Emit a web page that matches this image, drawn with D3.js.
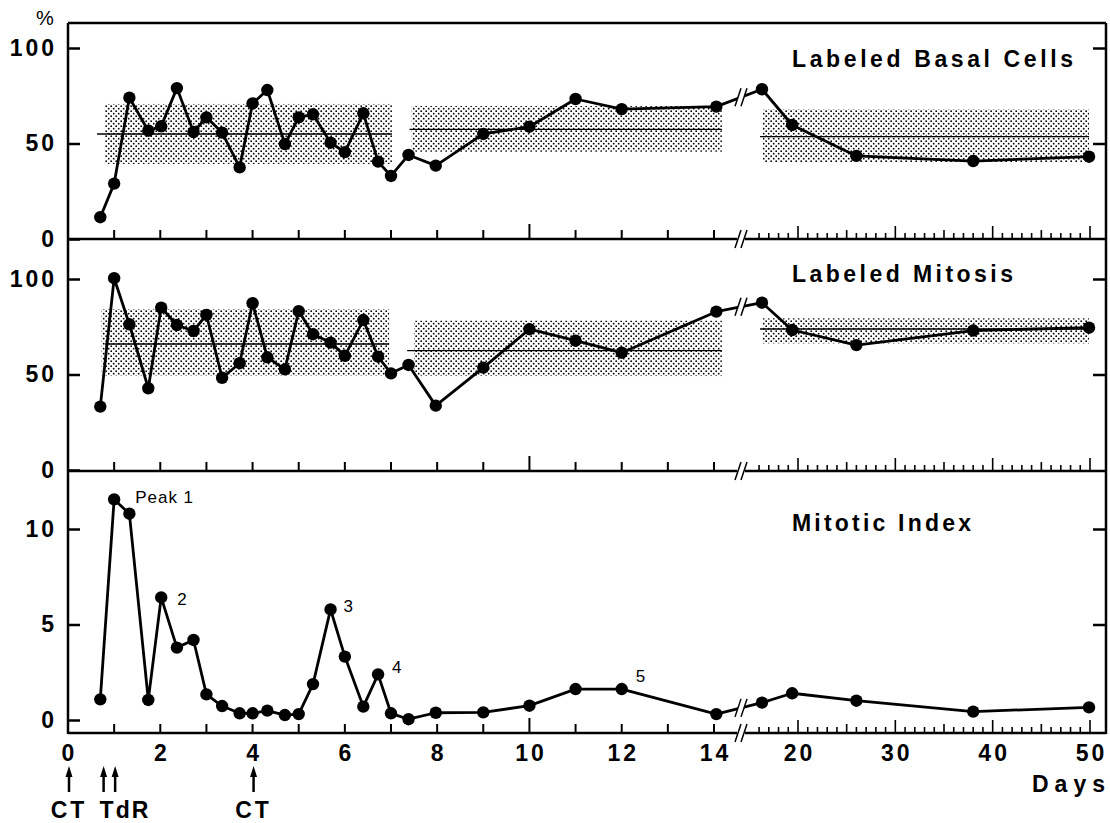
<!DOCTYPE html>
<html>
<head>
<meta charset="utf-8">
<script src="https://cdn.jsdelivr.net/npm/d3@7/dist/d3.min.js"></script>
<style>
  body { margin: 0; background: #fff; }
  text { font-family: "Liberation Sans", Arial, sans-serif; fill: #000; }
</style>
</head>
<body>
<div id="chart"></div>
<script>
// sampling days (shared by the three panels)
var days = [0.7, 1.0, 1.33, 1.74, 2.02, 2.36, 2.72, 3.0, 3.34, 3.72, 4.0, 4.32, 4.7, 5.0, 5.31, 5.69,
  6.0, 6.4, 6.72, 7.0, 7.38, 7.97, 9.0, 10.0, 11.0, 12.0, 14.05, 16.3, 19.4, 26.0, 38.0, 49.9];

var basalCells = [11.4, 29, 74, 56.7, 59, 79, 56, 63.7, 55.7, 37.5, 71, 78, 49.7, 63.7, 65.3, 50.4,
  45.5, 65.8, 40.5, 33, 44, 38.4, 55, 58.8, 73.3, 68, 69.3, 78.4, 59.7, 43.5, 40.8, 43.1];

var labeledMitosis = [33.2, 100.4, 76.3, 42.8, 85, 75.9, 72.8, 81.2, 48.3, 55.9, 87.3, 59, 52.7, 83.2, 71.1, 66.7,
  59.8, 78.5, 59.3, 50.6, 55, 33.7, 53.6, 73.7, 67.7, 61.4, 82.9, 87.6, 73.3, 65.4, 73.0, 74.5];

var mitoticIndex = [1.08, 11.55, 10.8, 1.05, 6.42, 3.79, 4.19, 1.34, 0.73, 0.35, 0.35, 0.49, 0.26, 0.31, 1.88, 5.79,
  3.32, 0.70, 2.39, 0.35, 0.04, 0.38, 0.40, 0.75, 1.62, 1.62, 0.31, 0.91, 1.40, 1.01, 0.44, 0.66];

// shaded ranges: [fromDay, toDay, low, high, mean, meanLineFrom]
var basalBands = [[0.8, 7.02, 39.3, 70.7, 55, 0.63], [7.45, 14.17, 45.7, 69.6, 57.4, 7.4], [16.4, 49.9, 40.2, 67.9, 53.6, 16.1]];
var mitosisBands = [[0.73, 6.96, 49.4, 84.3, 66, 0.8], [7.5, 14.17, 49.2, 78.2, 62.5, 7.35], [16.4, 49.9, 66.3, 79.4, 73.8, 16.1]];

// peak labels on the mitotic index: [index into days, label]
var peakLabels = [[1, "Peak 1"], [4, "2"], [15, "3"], [18, "4"], [25, "5"]];

var ctDays = [0, 4];
var tdrDays = [0.75, 1.0];

var leftTicks = d3.range(0, 15);
var leftLabels = [0, 2, 4, 6, 8, 10, 12, 14];
var rightTicks = d3.range(16, 51);
var rightLabels = [20, 30, 40, 50];

var svgWidth = 1110, svgHeight = 823;
var axisX = 68, rightX = 1106, topY = 23;
var breakX = 741;

var svg = d3.select("#chart").append("svg")
  .attr("width", svgWidth)
  .attr("height", svgHeight);

var defs = svg.append("defs");
var pat = defs.append("pattern")
  .attr("id", "stipple")
  .attr("width", 5).attr("height", 5)
  .attr("patternUnits", "userSpaceOnUse");
pat.append("circle").attr("cx", 1.2).attr("cy", 1.2).attr("r", 0.9).attr("fill", "#000");
pat.append("circle").attr("cx", 3.7).attr("cy", 3.7).attr("r", 0.9).attr("fill", "#000");

// broken x scale: 0-14 days, then 15-50 days
var xLeft = d3.scaleLinear().domain([0, 14]).range([68, 714]);
var xRight = d3.scaleLinear().domain([20, 50]).range([798, 1090]);
function x(d) { return d <= 14.5 ? xLeft(d) : xRight(d); }

var panels = [
  { name: "Labeled Basal Cells", values: basalCells, bands: basalBands,
    y: d3.scaleLinear().domain([0, 100]).range([239, 48]), ticks: [0, 50, 100], bottom: 239, titleW: 281, titleY: 67 },
  { name: "Labeled Mitosis", values: labeledMitosis, bands: mitosisBands,
    y: d3.scaleLinear().domain([0, 100]).range([470, 279]), ticks: [0, 50, 100], bottom: 471, titleW: 221, titleY: 282 },
  { name: "Mitotic Index", values: mitoticIndex, bands: [],
    y: d3.scaleLinear().domain([0, 10]).range([720, 529]), ticks: [0, 5, 10], bottom: 733, titleW: 179, titleY: 531 }
];

// outer frame
svg.append("line").attr("x1", axisX).attr("x2", rightX).attr("y1", topY).attr("y2", topY)
  .attr("stroke", "#000").attr("stroke-width", 2.5);
svg.append("line").attr("x1", axisX).attr("x2", axisX).attr("y1", topY).attr("y2", 734)
  .attr("stroke", "#000").attr("stroke-width", 2.5);
svg.append("line").attr("x1", rightX).attr("x2", rightX).attr("y1", topY).attr("y2", 734)
  .attr("stroke", "#000").attr("stroke-width", 2.5);

svg.append("text").attr("x", 45).attr("y", 25).attr("text-anchor", "middle")
  .attr("font-size", "20px").text("%");

var line = d3.line().x(function (d, i) { return x(days[i]); }).y(function (d) { return d; });

panels.forEach(function (p, pi) {
  var g = svg.append("g");
  var y = p.y;

  // shaded ranges and mean lines
  g.selectAll("rect.band").data(p.bands).enter().append("rect")
    .attr("x", function (b) { return x(b[0]); })
    .attr("width", function (b) { return x(b[1]) - x(b[0]); })
    .attr("y", function (b) { return y(b[3]); })
    .attr("height", function (b) { return y(b[2]) - y(b[3]); })
    .attr("fill", "url(#stipple)");
  g.selectAll("line.mean").data(p.bands).enter().append("line")
    .attr("x1", function (b) { return x(b[5]); })
    .attr("x2", function (b) { return x(b[1]); })
    .attr("y1", function (b) { return y(b[4]); })
    .attr("y2", function (b) { return y(b[4]); })
    .attr("stroke", "#000").attr("stroke-width", 1.4);

  // bottom axis line with break gap
  g.append("line").attr("x1", axisX).attr("x2", breakX - 4).attr("y1", p.bottom).attr("y2", p.bottom)
    .attr("stroke", "#000").attr("stroke-width", 2.5);
  g.append("line").attr("x1", breakX + 4).attr("x2", rightX).attr("y1", p.bottom).attr("y2", p.bottom)
    .attr("stroke", "#000").attr("stroke-width", 2.5);
  [-3, 3].forEach(function (o) {
    g.append("line")
      .attr("x1", breakX + o - 3).attr("y1", p.bottom + 9)
      .attr("x2", breakX + o + 3).attr("y2", p.bottom - 9)
      .attr("stroke", "#000").attr("stroke-width", 1.5);
  });

  // inward x ticks
  g.selectAll("line.lt").data(leftTicks).enter().append("line")
    .attr("x1", function (d) { return xLeft(d); }).attr("x2", function (d) { return xLeft(d); })
    .attr("y1", p.bottom).attr("y2", function (d) { return p.bottom - (d === 10 ? 15 : 9); })
    .attr("stroke", "#000").attr("stroke-width", 2);
  g.selectAll("line.rt").data(rightTicks).enter().append("line")
    .attr("x1", function (d) { return xRight(d); }).attr("x2", function (d) { return xRight(d); })
    .attr("y1", p.bottom).attr("y2", function (d) { return p.bottom - (d % 10 === 0 ? 13 : (d % 5 === 0 ? 9 : 6)); })
    .attr("stroke", "#000").attr("stroke-width", 1.6);

  // y axes, ticks pointing inward
  var yl = g.append("g").attr("transform", "translate(" + axisX + ",0)")
    .call(d3.axisLeft(y).tickValues(p.ticks).tickSize(-12).tickPadding(11).tickFormat(d3.format("d")));
  yl.select(".domain").remove();
  yl.selectAll("line").attr("stroke-width", 2.5);
  yl.selectAll("text").attr("font-size", "23px").attr("font-weight", "bold")
    .attr("letter-spacing", "3px").attr("font-family", "Liberation Sans, Arial, sans-serif");

  var yr = g.append("g").attr("transform", "translate(" + rightX + ",0)")
    .call(d3.axisRight(y).tickValues(p.ticks.filter(function (t) { return t > 0; })).tickSize(-13).tickFormat(""));
  yr.select(".domain").remove();
  yr.selectAll("line").attr("stroke-width", 2.5);

  // title
  g.append("text").attr("x", 792).attr("y", p.titleY)
    .attr("font-size", "23px").attr("font-weight", "bold")
    .attr("textLength", p.titleW).attr("lengthAdjust", "spacing")
    .text(p.name);

  // data line and points
  var pts = p.values.map(function (v) { return y(v); });
  g.append("path").datum(pts).attr("d", line)
    .attr("fill", "none").attr("stroke", "#000").attr("stroke-width", 2.8).attr("stroke-linejoin", "round");
  g.selectAll("circle.pt").data(p.values).enter().append("circle")
    .attr("cx", function (d, i) { return x(days[i]); })
    .attr("cy", function (d) { return y(d); })
    .attr("r", 6.2).attr("fill", "#000");

  // break mark on the data line
  var i0 = days.findIndex(function (d) { return d > 14.5; }) - 1;
  var xa = x(days[i0]), xb = x(days[i0 + 1]);
  var t = (breakX - xa) / (xb - xa);
  var yb = pts[i0] + t * (pts[i0 + 1] - pts[i0]);
  g.append("rect").attr("x", breakX - 3).attr("y", yb - 4).attr("width", 6).attr("height", 8).attr("fill", "#fff");
  [-3, 3].forEach(function (o) {
    g.append("line")
      .attr("x1", breakX + o - 3).attr("y1", yb + 9)
      .attr("x2", breakX + o + 3).attr("y2", yb - 9)
      .attr("stroke", "#000").attr("stroke-width", 1.5);
  });

  if (pi === 2) {
    var peakOffsets = [[21, 4], [16, 8], [13, 3], [14, -1], [14, -7]];
    g.selectAll("text.peak").data(peakLabels).enter().append("text")
      .attr("x", function (d, k) { return x(days[d[0]]) + peakOffsets[k][0]; })
      .attr("y", function (d, k) { return y(p.values[d[0]]) + peakOffsets[k][1]; })
      .attr("font-size", "17px").attr("letter-spacing", "1px")
      .text(function (d) { return d[1]; });
  }
});

// x tick labels under the bottom panel
var labY = 761;
svg.selectAll("text.xl").data(leftLabels).enter().append("text")
  .attr("x", function (d) { return xLeft(d) + 1.5; }).attr("y", labY)
  .attr("text-anchor", "middle").attr("font-size", "23px").attr("font-weight", "bold")
  .attr("letter-spacing", "3px")
  .text(function (d) { return d; });
svg.selectAll("text.xr").data(rightLabels).enter().append("text")
  .attr("x", function (d) { return xRight(d) + 1.5; }).attr("y", labY)
  .attr("text-anchor", "middle").attr("font-size", "23px").attr("font-weight", "bold")
  .attr("letter-spacing", "3px")
  .text(function (d) { return d; });

svg.append("text").attr("x", 1032).attr("y", 792)
  .attr("font-size", "23px").attr("font-weight", "bold")
  .attr("textLength", 73).attr("lengthAdjust", "spacing")
  .text("Days");

// treatment arrows
function arrow(d) {
  var ax = xLeft(d) + 1;
  svg.append("line").attr("x1", ax).attr("x2", ax).attr("y1", 792).attr("y2", 774)
    .attr("stroke", "#000").attr("stroke-width", 2.5);
  svg.append("path")
    .attr("d", "M" + (ax - 3.5) + ",777 L" + ax + ",766 L" + (ax + 3.5) + ",777 Z")
    .attr("fill", "#000");
}
ctDays.forEach(arrow);
tdrDays.forEach(arrow);

svg.selectAll("text.ct").data(ctDays).enter().append("text")
  .attr("x", function (d) { return xLeft(d) + 1; }).attr("y", 818)
  .attr("text-anchor", "middle").attr("font-size", "23px").attr("font-weight", "bold")
  .attr("letter-spacing", "3px")
  .text("CT");
svg.append("text").attr("x", xLeft(tdrDays[0]) - 3).attr("y", 818)
  .attr("font-size", "23px").attr("font-weight", "bold")
  .attr("letter-spacing", "2px")
  .text("TdR");
</script>
</body>
</html>
